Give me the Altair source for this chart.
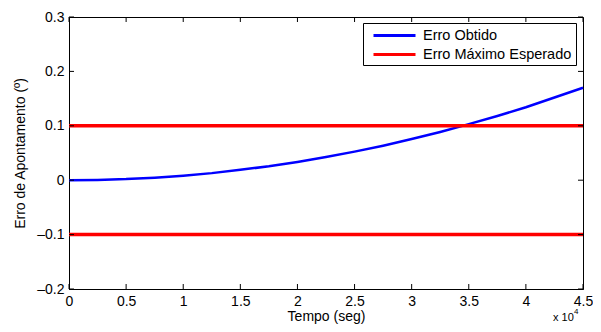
import altair as alt
import pandas as pd

# Data
t_seg = [0, 2500, 5000, 7500, 10000, 12500, 15000, 17500, 20000, 22500,
         25000, 27500, 30000, 32500, 35000, 37500, 40000, 42500, 45000]
erro_obtido = [0.0, 0.0005, 0.002, 0.0047, 0.0084, 0.013, 0.019, 0.0257, 0.0336, 0.0425,
               0.0525, 0.0635, 0.0756, 0.0887, 0.103, 0.118, 0.134, 0.152, 0.170]
limite_x = [0, 45000]
limite_sup = [0.1, 0.1]
limite_inf = [-0.1, -0.1]
x_ticks = [0, 5000, 10000, 15000, 20000, 25000, 30000, 35000, 40000, 45000]
y_ticks = [-0.2, -0.1, 0.0, 0.1, 0.2, 0.3]
series = ["Erro Obtido", "Erro Máximo Esperado"]
exp_label = ["x 10", "4"]

W, H = 514, 272
FONT = "Liberation Sans"
FS = 14
LFS = 14.5

blue_df = pd.DataFrame({"t": t_seg, "e": erro_obtido, "serie": series[0]})
red_df = pd.DataFrame({
    "t": limite_x + limite_x,
    "e": limite_sup + limite_inf,
    "serie": series[1],
    "grp": ["sup"] * 2 + ["inf"] * 2,
})
xt_df = pd.DataFrame({"t": x_ticks})
yt_df = pd.DataFrame({"e": y_ticks})

xscale = alt.Scale(domain=[0, 45000], nice=False, zero=False)
yscale = alt.Scale(domain=[-0.2, 0.3], nice=False, zero=False)
cscale = alt.Scale(domain=series, range=["#0000ff", "#ff0000"])

xaxis = alt.Axis(values=x_ticks, labelExpr="format(datum.value/10000, '~g')",
                 tickSize=0, labelPadding=5, grid=False, domainColor="black",
                 labelColor="black", labelFont=FONT, labelFontSize=FS,
                 title="Tempo (seg)", titleFont=FONT, titleFontSize=FS,
                 titleFontWeight="normal", titleColor="black", titlePadding=1,
                 labelFlush=False)
yaxis = alt.Axis(values=y_ticks,
                 labelExpr="replace(replace(format(datum.value, '.1~f'), '-', '\u2212'), '\u2212', '\u2013')",
                 tickSize=0, labelPadding=5,
                 grid=False, domainColor="black", labelColor="black",
                 labelFont=FONT, labelFontSize=FS,
                 title="Erro de Apontamento (º)", titleFont=FONT, titleFontSize=FS,
                 titleFontWeight="normal", titleColor="black", titlePadding=9,
                 labelFlush=False)

legend = alt.Legend(title=None, orient="none", legendX=294, legendY=6,
                    fillColor="white", strokeColor="black", padding=4,
                    symbolType="M-3,0H3", symbolStrokeWidth=3, symbolSize=196,
                    symbolOffset=19, labelFont=FONT, labelFontSize=LFS,
                    labelColor="black", labelLimit=400, rowPadding=4,
                    labelOffset=20)

blue = alt.Chart(blue_df).mark_line(strokeWidth=2.5).encode(
    x=alt.X("t:Q", scale=xscale, axis=xaxis),
    y=alt.Y("e:Q", scale=yscale, axis=yaxis),
    color=alt.Color("serie:N", scale=cscale, legend=legend, sort=series),
)
red = alt.Chart(red_df).mark_line(strokeWidth=3.5).encode(
    x=alt.X("t:Q", scale=xscale),
    y=alt.Y("e:Q", scale=yscale),
    color=alt.Color("serie:N", scale=cscale, legend=legend, sort=series),
    detail="grp:N",
)

tick_style = dict(color="black", strokeWidth=1)
xb = alt.Chart(xt_df).mark_rule(**tick_style).encode(
    x=alt.X("t:Q", scale=xscale), y=alt.value(H), y2=alt.value(H - 5))
xtop = alt.Chart(xt_df).mark_rule(**tick_style).encode(
    x=alt.X("t:Q", scale=xscale), y=alt.value(0), y2=alt.value(5))
yl = alt.Chart(yt_df).mark_rule(**tick_style).encode(
    y=alt.Y("e:Q", scale=yscale), x=alt.value(0), x2=alt.value(5))
yr = alt.Chart(yt_df).mark_rule(**tick_style).encode(
    y=alt.Y("e:Q", scale=yscale), x=alt.value(W), x2=alt.value(W - 5))

exp_base = alt.Chart(pd.DataFrame({"txt": [exp_label[0]]})).mark_text(
    font=FONT, fontSize=11, align="left", baseline="middle", color="black"
).encode(text="txt:N", x=alt.value(484), y=alt.value(H + 29))
exp_sup = alt.Chart(pd.DataFrame({"txt": [exp_label[1]]})).mark_text(
    font=FONT, fontSize=8, align="left", baseline="middle", color="black"
).encode(text="txt:N", x=alt.value(505), y=alt.value(H + 23))

chart = alt.layer(blue, red, xb, xtop, yl, yr, exp_base, exp_sup).properties(
    width=W, height=H,
    autosize=alt.AutoSizeParams(type="none"),
    padding={"left": 61, "top": 9, "right": 10, "bottom": 35},
    background="white",
).configure_view(stroke="black", strokeWidth=1)

chart.save("out.html", embed_options={"renderer": "svg", "actions": False})
